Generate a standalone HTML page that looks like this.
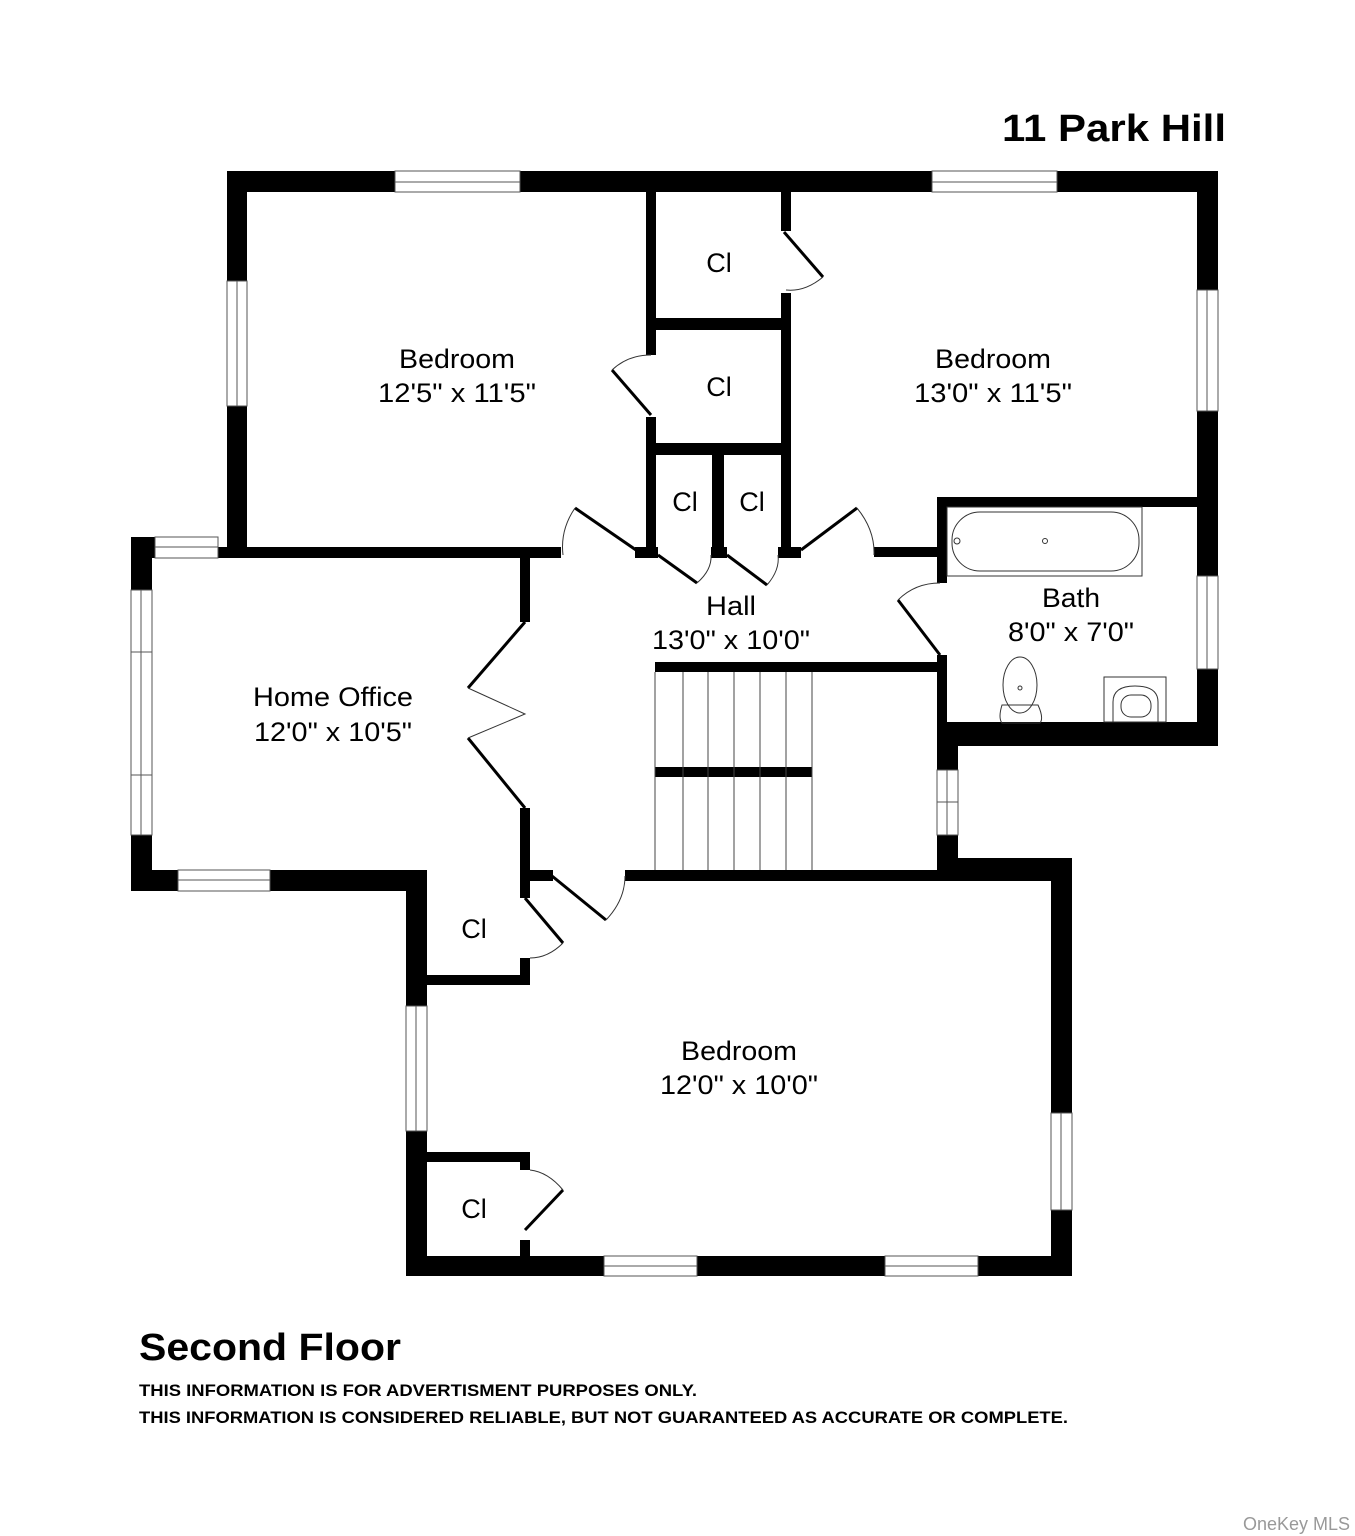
<!DOCTYPE html>
<html><head><meta charset="utf-8"><style>
html,body{margin:0;padding:0;background:#fff;}
svg{display:block;}
text{font-family:"Liberation Sans",Arial,sans-serif;fill:#000;}
</style></head><body>
<svg width="1355" height="1536" viewBox="0 0 1355 1536" xmlns="http://www.w3.org/2000/svg">
<rect width="1355" height="1536" fill="#fff"/>
<g fill="#000">
<rect x="227" y="171" width="991" height="21"/>
<rect x="227" y="171" width="20" height="386"/>
<rect x="1197" y="171" width="21" height="575"/>
<rect x="218" y="547" width="343" height="11"/>
<rect x="131" y="537" width="21" height="353"/>
<rect x="131" y="537" width="87" height="21"/>
<rect x="131" y="870" width="280" height="21"/>
<rect x="520" y="557" width="10" height="65"/>
<rect x="520" y="808" width="10" height="90"/>
<rect x="646" y="192" width="10" height="163"/>
<rect x="646" y="417" width="10" height="140"/>
<rect x="781" y="192" width="10" height="39"/>
<rect x="781" y="293" width="10" height="264"/>
<rect x="656" y="318" width="125" height="12"/>
<rect x="656" y="443" width="125" height="12"/>
<rect x="712" y="455" width="12" height="102"/>
<rect x="635" y="547" width="23" height="11"/>
<rect x="711" y="547" width="16" height="11"/>
<rect x="778" y="547" width="23" height="11"/>
<rect x="874" y="547" width="63" height="10"/>
<rect x="937" y="497" width="260" height="10"/>
<rect x="937" y="497" width="10" height="86"/>
<rect x="937" y="655" width="10" height="91"/>
<rect x="937" y="722" width="281" height="24"/>
<rect x="937" y="746" width="21" height="24"/>
<rect x="937" y="835" width="21" height="45"/>
<rect x="937" y="858" width="135" height="22"/>
<rect x="655" y="662" width="285" height="10"/>
<rect x="655" y="767" width="157" height="10"/>
<rect x="525" y="870" width="28" height="11"/>
<rect x="625" y="870" width="447" height="11"/>
<rect x="406" y="870" width="21" height="406"/>
<rect x="1051" y="858" width="21" height="418"/>
<rect x="406" y="1256" width="666" height="20"/>
<rect x="427" y="975" width="103" height="10"/>
<rect x="520" y="881" width="10" height="17"/>
<rect x="520" y="958" width="10" height="27"/>
<rect x="427" y="1152" width="103" height="10"/>
<rect x="520" y="1152" width="10" height="18"/>
<rect x="520" y="1240" width="10" height="16"/>
</g>
<g fill="#fff" stroke="#555" stroke-width="1">
<rect x="395" y="171" width="125" height="21"/><line x1="395" y1="182" x2="520" y2="182"/>
<rect x="932" y="171" width="125" height="21"/><line x1="932" y1="182" x2="1057" y2="182"/>
<rect x="227" y="281" width="20" height="125"/><line x1="237" y1="281" x2="237" y2="406"/>
<rect x="1197" y="290" width="21" height="121"/><line x1="1207" y1="290" x2="1207" y2="411"/>
<rect x="1197" y="576" width="21" height="93"/><line x1="1207" y1="576" x2="1207" y2="669"/>
<rect x="155" y="537" width="63" height="21"/><line x1="155" y1="547" x2="218" y2="547"/>
<rect x="131" y="590" width="21" height="245"/><line x1="141" y1="590" x2="141" y2="835"/><line x1="131" y1="652" x2="152" y2="652"/><line x1="131" y1="775" x2="152" y2="775"/>
<rect x="178" y="870" width="92" height="21"/><line x1="178" y1="880" x2="270" y2="880"/>
<rect x="937" y="770" width="21" height="65"/><line x1="947" y1="770" x2="947" y2="835"/><line x1="937" y1="802" x2="958" y2="802"/>
<rect x="406" y="1006" width="21" height="125"/><line x1="416" y1="1006" x2="416" y2="1131"/>
<rect x="1051" y="1113" width="21" height="97"/><line x1="1061" y1="1113" x2="1061" y2="1210"/>
<rect x="604" y="1256" width="93" height="20"/><line x1="604" y1="1266" x2="697" y2="1266"/>
<rect x="885" y="1256" width="93" height="20"/><line x1="885" y1="1266" x2="978" y2="1266"/>
</g>
<g stroke="#444" stroke-width="1">
<line x1="655" y1="672" x2="655" y2="870"/>
<line x1="683" y1="672" x2="683" y2="870"/>
<line x1="708" y1="672" x2="708" y2="870"/>
<line x1="734" y1="672" x2="734" y2="870"/>
<line x1="760" y1="672" x2="760" y2="870"/>
<line x1="786" y1="672" x2="786" y2="870"/>
<line x1="812" y1="672" x2="812" y2="870"/>
</g>
<g fill="none" stroke="#000" stroke-width="3">
<line x1="784" y1="232" x2="823" y2="277"/>
<line x1="651" y1="415" x2="612" y2="370"/>
<line x1="636" y1="550" x2="575" y2="508"/>
<line x1="658" y1="555" x2="697" y2="583"/>
<line x1="727" y1="555" x2="767" y2="585"/>
<line x1="801" y1="550" x2="857" y2="508"/>
<line x1="940" y1="655" x2="898" y2="600"/>
<line x1="525" y1="622" x2="468" y2="688"/>
<line x1="525" y1="808" x2="468" y2="738"/>
<line x1="552" y1="876" x2="606" y2="920"/>
<line x1="525" y1="898" x2="563" y2="943"/>
<line x1="525" y1="1230" x2="563" y2="1190"/>
</g>
<g fill="none" stroke="#333" stroke-width="1">
<path d="M823 277 Q805 292 786 290"/>
<path d="M612 370 Q628 355 651 355"/>
<path d="M575 508 Q560 530 563 555"/>
<path d="M697 583 Q712 570 711 555"/>
<path d="M767 585 Q780 570 778 555"/>
<path d="M857 508 Q875 530 874 555"/>
<path d="M898 600 Q915 583 940 583"/>
<path d="M468 688 L525 714 L468 738"/>
<path d="M606 920 Q625 900 625 876"/>
<path d="M563 943 Q548 958 530 958"/>
<path d="M563 1190 Q548 1172 530 1170"/>
</g>
<g fill="none" stroke="#333" stroke-width="1">
<rect x="947" y="507" width="195" height="69"/>
<rect x="952" y="512" width="187" height="59" rx="28"/>
<circle cx="1045" cy="541" r="2.5"/>
<circle cx="957" cy="541" r="3"/>
<ellipse cx="1020" cy="685" rx="17" ry="28"/>
<circle cx="1020" cy="688" r="2"/>
<path d="M1002 705 Q998 718 1002 723 L1040 723 Q1044 718 1038 705 Z"/>
<rect x="1104" y="677" width="62" height="45"/>
<path d="M1113 722 L1113 702 Q1113 686 1135 686 Q1158 686 1158 702 L1158 722"/>
<rect x="1121" y="695" width="30" height="22" rx="10"/>
</g>
<text x="1002" y="141" font-size="38" font-weight="bold" textLength="224" lengthAdjust="spacingAndGlyphs">11 Park Hill</text>
<g font-size="27" text-anchor="middle">
<text x="457" y="368" textLength="116" lengthAdjust="spacingAndGlyphs">Bedroom</text><text x="457" y="402" textLength="158" lengthAdjust="spacingAndGlyphs">12'5" x 11'5"</text>
<text x="993" y="368" textLength="116" lengthAdjust="spacingAndGlyphs">Bedroom</text><text x="993" y="402" textLength="158" lengthAdjust="spacingAndGlyphs">13'0" x 11'5"</text>
<text x="1071" y="607" textLength="58" lengthAdjust="spacingAndGlyphs">Bath</text><text x="1071" y="641" textLength="126" lengthAdjust="spacingAndGlyphs">8'0" x 7'0"</text>
<text x="731" y="615" textLength="50" lengthAdjust="spacingAndGlyphs">Hall</text><text x="731" y="649" textLength="158" lengthAdjust="spacingAndGlyphs">13'0" x 10'0"</text>
<text x="333" y="706" textLength="160" lengthAdjust="spacingAndGlyphs">Home Office</text><text x="333" y="741" textLength="158" lengthAdjust="spacingAndGlyphs">12'0" x 10'5"</text>
<text x="739" y="1060" textLength="116" lengthAdjust="spacingAndGlyphs">Bedroom</text><text x="739" y="1094" textLength="158" lengthAdjust="spacingAndGlyphs">12'0" x 10'0"</text>
<text x="719" y="272">Cl</text><text x="719" y="396">Cl</text>
<text x="685" y="511">Cl</text><text x="752" y="511">Cl</text>
<text x="474" y="938">Cl</text><text x="474" y="1218">Cl</text>
</g>
<text x="139" y="1360" font-size="38" font-weight="bold" textLength="262" lengthAdjust="spacingAndGlyphs">Second Floor</text>
<text x="139" y="1396" font-size="17" font-weight="bold" textLength="558" lengthAdjust="spacingAndGlyphs">THIS INFORMATION IS FOR ADVERTISMENT PURPOSES ONLY.</text>
<text x="139" y="1423" font-size="17" font-weight="bold" textLength="929" lengthAdjust="spacingAndGlyphs">THIS INFORMATION IS CONSIDERED RELIABLE, BUT NOT GUARANTEED AS ACCURATE OR COMPLETE.</text>
<text x="1350" y="1530" font-size="18" text-anchor="end" style="fill:#999">OneKey MLS</text>
</svg>
</body></html>
